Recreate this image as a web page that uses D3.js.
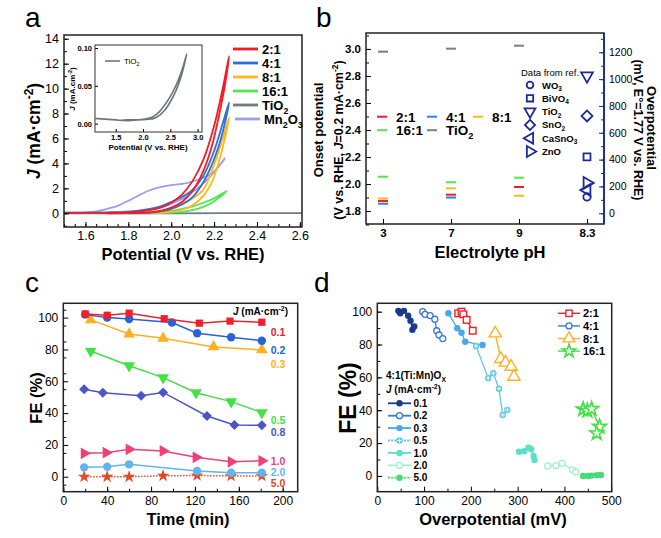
<!DOCTYPE html>
<html><head><meta charset="utf-8">
<script src="https://cdn.jsdelivr.net/npm/d3@7"></script>
<style>body{margin:0;background:#fff}svg{display:block;font-family:"Liberation Sans",Arial,sans-serif}</style>
</head><body><script>
// ================= DATA =================
// Panel a: CV curves, [potential (V vs RHE), J (mA cm-2)], forward then return branch
const aNames = ["2:1","4:1","8:1","16:1","TiO_{2}","Mn_{2}O_{3}"];
const a_21 = [[1.50,0.02],[1.70,0.04],[1.80,0.08],[1.90,0.25],[1.95,0.45],[2.00,0.85],[2.05,1.5],[2.10,2.6],[2.15,4.3],[2.20,7.0],[2.24,10.0],[2.27,12.6],[2.25,10.2],[2.22,7.6],[2.19,5.4],[2.15,3.4],[2.10,1.8],[2.05,0.9],[2.00,0.45],[1.95,0.2],[1.90,0.08],[1.80,0.02],[1.70,0.0]];
const a_41 = [[1.50,0.05],[1.70,0.06],[1.80,0.12],[1.90,0.35],[1.95,0.55],[2.00,0.9],[2.05,1.3],[2.10,1.9],[2.15,3.0],[2.20,5.0],[2.24,7.2],[2.27,8.9],[2.25,7.2],[2.22,5.3],[2.18,3.5],[2.14,2.2],[2.10,1.3],[2.05,0.7],[2.00,0.35],[1.95,0.15],[1.90,0.06],[1.80,0.02]];
const a_81 = [[1.75,0.0],[1.85,0.05],[1.95,0.2],[2.00,0.4],[2.05,0.75],[2.10,1.2],[2.15,1.9],[2.20,3.9],[2.24,6.0],[2.27,7.7],[2.25,6.0],[2.22,4.0],[2.19,2.5],[2.15,1.4],[2.10,0.65],[2.05,0.3],[2.00,0.12],[1.90,0.02]];
const a_161 = [[1.50,0.02],[1.80,0.03],[1.90,0.08],[2.00,0.2],[2.05,0.35],[2.10,0.55],[2.15,0.85],[2.20,1.2],[2.26,1.8],[2.22,1.2],[2.18,0.75],[2.14,0.45],[2.10,0.25],[2.05,0.12],[2.00,0.05],[1.90,0.0],[1.80,-0.02]];
const a_TiO2 = [[1.50,0.0],[2.00,0.0],[2.61,0.02]];
const a_Mn2O3 = [[1.50,0.05],[1.60,0.08],[1.65,0.15],[1.70,0.35],[1.75,0.6],[1.80,1.0],[1.85,1.45],[1.90,1.85],[1.95,2.1],[2.00,2.25],[2.05,2.35],[2.10,2.55],[2.15,2.85],[2.20,3.35],[2.25,4.4],[2.20,3.3],[2.15,2.4],[2.10,1.7],[2.05,1.15],[2.00,0.75],[1.95,0.45],[1.90,0.3],[1.80,0.15],[1.70,0.07],[1.60,0.05],[1.50,0.05]];
// inset: TiO2 only
const aInset_TiO2 = [[1.12,0.007],[1.3,0.006],[1.5,0.005],[1.7,0.004],[1.9,0.005],[2.1,0.007],[2.2,0.010],[2.3,0.016],[2.4,0.025],[2.5,0.036],[2.6,0.050],[2.7,0.068],[2.8,0.092],[2.7,0.063],[2.6,0.043],[2.5,0.029],[2.4,0.018],[2.3,0.011],[2.2,0.007],[2.1,0.006],[1.9,0.005],[1.7,0.005],[1.6,0.004]];
const aXTicks = [1.6,1.8,2.0,2.2,2.4,2.6];
const aYTicks = [0,2,4,6,8,10,12,14];

// Panel b: onset potentials (V vs RHE) per pH
const bPH = ["3","7","9","8.3"];
const bNames = ["2:1","4:1","8:1","16:1","TiO_{2}"];
const b_21  = [1.874,1.921,1.978,null];
const b_41  = [1.854,1.900,null,null];
const b_81  = [1.893,1.968,1.913,null];
const b_161 = [2.054,2.013,2.047,null];
const b_TiO2= [2.980,3.002,3.024,null];
const bRefNames = ["WO_{3}","BiVO_{4}","TiO_{2}","SnO_{2}","CaSnO_{3}","ZnO"];
const bRefOverpot = [122,420,1025,726,174,226]; // mV, shown at pH 8.3
const bYTicks = [1.8,2.0,2.2,2.4,2.6,2.8,3.0];
const bY2Ticks = [0,200,400,600,800,1000,1200];

// Panel c: FE (%) vs time (min)
const cNames = ["0.1","0.2","0.3","0.5","0.8","1.0","2.0","5.0"];
const c_01 = [[20,102.3],[40,101.5],[60,102.8],[92,99.3],[124,96.5],[152,97.8],[181,97.1]];
const c_02 = [[20,102],[40,100],[60,99.1],[99,96.9],[122,90.2],[153,87.7],[181,85.5]];
const c_03 = [[25,98.6],[60,89.7],[91,87],[137,81.6],[181,79.7]];
const c_05 = [[25,79],[60,69.8],[91,62.3],[121,52.8],[153,47.2],[181,40.3]];
const c_08 = [[19,55],[36,52.8],[71,50.9],[91,53],[131,38.2],[156,32.5],[181,32.3]];
const c_10 = [[19,14.7],[39,15.1],[60,17.2],[91,16.2],[121,12.2],[153,9.4],[181,10]];
const c_20 = [[19,5.9],[40,6.3],[60,7.8],[122,3.6],[153,2.5],[181,2.5]];
const c_50 = [[19,0],[40,0],[60,0],[91,0.6],[122,0.8],[153,0.5],[181,0.5]];
const cXTicks = [0,40,80,120,160,200];
const cYTicks = [0,20,40,60,80,100];

// Panel d: FE (%) vs overpotential (mV)
const dJNames = ["0.1","0.2","0.3","0.5","1.0","2.0","5.0"];
const d_01 = [[45,100.5],[49,99],[57,100.5],[66,97.5],[71,94.5],[75,89],[79,91]];
const d_02 = [[97,100],[102,98.4],[113,97.6],[123,95.4],[127,88.4],[132,85.8],[140,83.6]];
const d_03 = [[152,99],[171,89.9],[180,87.2],[188,81.7],[225,79.7]];
const d_05 = [[211,79.1],[237,59.5],[248,62.5],[260,53.1],[268,37.1],[278,40.2]];
const d_10 = [[303,14.7],[314,15.1],[323,17.2],[329,16.2],[334,12.2],[336,9.7]];
const d_20 = [[364,6.1],[382,6.3],[395,7.7],[417,3.7],[424,2.4]];
const d_50 = [[440,0],[451,0],[458,0.2],[469,0.5],[478,0.6]];
const dRatioNames = ["2:1","4:1","8:1","16:1"];
const d_2to1 = [[173,99],[180,100],[184,98.4],[191,95],[204,88.4]];
const d_8to1 = [[252,86.8],[264,71.2],[274,69],[286,66.5],[292,60.4]];
const d_16to1 = [[440,40.6],[449,39.7],[458,40.8],[475,30],[469,26]];
const dXTicks = [0,100,200,300,400,500];
const dYTicks = [0,20,40,60,80,100];

// ================= DRAWING =================
const W=661,H=538;
const svg=d3.select('body').append('svg').attr('width',W).attr('height',H);
svg.append('rect').attr('width',W).attr('height',H).attr('fill','#fff');

function rich(sel, str, fs){
  const parts=str.split(/(_\{[^}]*\}|\^\{[^}]*\}|\*[^*]+\*)/).filter(s=>s!=='');
  let shift=0;
  parts.forEach(p=>{
    let t=p,dy=0,size=null,it=false;
    if(p.startsWith('_{')){t=p.slice(2,-1);dy=0.28*fs;size=0.68*fs;}
    else if(p.startsWith('^{')){t=p.slice(2,-1);dy=-0.4*fs;size=0.68*fs;}
    else if(p.startsWith('*')){t=p.slice(1,-1);it=true;}
    const ts=sel.append('tspan').text(t);
    const d=dy-shift; if(d) ts.attr('dy',d);
    shift=dy;
    if(size) ts.attr('font-size',size);
    if(it) ts.attr('font-style','italic');
  });
  return sel;
}
function label(x,y,str,fs,opts={}){
  const t=svg.append('text').attr('x',x).attr('y',y).attr('font-size',fs)
    .attr('font-weight',opts.weight||'bold').attr('fill',opts.fill||'#000')
    .attr('text-anchor',opts.anchor||'start');
  if(opts.rotate!==undefined) t.attr('transform',`rotate(${opts.rotate},${x},${y})`);
  if(opts.family) t.attr('font-family',opts.family);
  if(opts.baseline) t.attr('dominant-baseline',opts.baseline);
  rich(t,str,fs);
  return t;
}
function styleAxis(g,fs,weight,color){
  g.select('.domain').remove();
  g.attr('font-family',null).attr('font-size',null);
  g.selectAll('text').attr('font-size',fs).attr('font-weight',weight).attr('fill',color||'#000');
  g.selectAll('line').attr('stroke',color||'#000').attr('stroke-width',1);
}
function minorAxis(g){ g.select('.domain').remove(); g.selectAll('text').remove();
  g.attr('font-family',null).attr('font-size',null); g.selectAll('line').attr('stroke','#000'); }
function axes(x,y,o){
  const [x0,x1]=x.range(), [y0,y1]=y.range();
  const gbm=svg.append('g').attr('transform',`translate(0,${y0})`)
    .call(d3.axisBottom(x).tickValues(o.xMinor).tickSize(-3));
  minorAxis(gbm);
  const gb=svg.append('g').attr('transform',`translate(0,${y0})`)
    .call(d3.axisBottom(x).tickValues(o.xTicks).tickSize(-5).tickPadding(o.xpad||5).tickFormat(o.xFmt||null));
  styleAxis(gb,o.fs,o.xWeight||o.weight);
  const glm=svg.append('g').attr('transform',`translate(${x0},0)`)
    .call(d3.axisLeft(y).tickValues(o.yMinor).tickSize(-3));
  minorAxis(glm);
  const gl=svg.append('g').attr('transform',`translate(${x0},0)`)
    .call(d3.axisLeft(y).tickValues(o.yTicks).tickSize(-5).tickPadding(o.ypad||5).tickFormat(o.yFmt||null));
  styleAxis(gl,o.fs,o.weight);
  svg.append('rect').attr('x',x0).attr('y',y1).attr('width',x1-x0).attr('height',y0-y1)
    .attr('fill','none').attr('stroke','#222').attr('stroke-width',o.sw||1.5);
}
function range(a,b,s){const r=[];for(let v=a;v<=b+1e-9;v+=s)r.push(+v.toFixed(4));return r;}

// panel letters
[['a',25,27],['b',316,27],['c',25,292],['d',314,292]].forEach(([t,x,y])=>
  svg.append('text').attr('x',x).attr('y',y).attr('font-family','"Liberation Sans",Arial,sans-serif').attr('font-size',28).text(t));

// ---------- Panel a ----------
const xA=d3.scaleLinear([1.5,2.61],[64,302]);
const yA=d3.scaleLinear([-1.1,14.3],[227,35]);
const aColors=['#f41c24','#2f6fdc','#ffb81c','#4fe84f','#707c84','#9c9ce8'];
const aData=[a_21,a_41,a_81,a_161,a_TiO2,a_Mn2O3];
const lineA=d3.line().x(d=>xA(d[0])).y(d=>yA(d[1])).curve(d3.curveCatmullRom);
const drawOrder=[4,5,3,2,1,0];
drawOrder.forEach(i=>svg.append('path').attr('d',lineA(aData[i])).attr('fill','none')
  .attr('stroke',aColors[i]).attr('stroke-width',1.8));
axes(xA,yA,{xTicks:aXTicks,xMinor:range(1.5,2.6,0.05),yTicks:aYTicks,yMinor:range(-1,14,1),
  fs:12.5,weight:'normal',xFmt:d3.format('.1f'),yFmt:d3.format('d'),xpad:4});
label(183,260,'Potential (V vs. RHE)',16.5,{anchor:'middle'});
label(40,131,'*J* (mA·cm^{-2})',17.5,{anchor:'middle',rotate:-90});
// legend a
aNames.forEach((n,i)=>{
  const y=49+i*14;
  const lx = i===5?235:233;
  svg.append('line').attr('x1',lx).attr('x2',lx+25).attr('y1',y).attr('y2',y).attr('stroke',aColors[i]).attr('stroke-width',2.8);
  label(lx+29,y+5,n,13);
});
// inset
const xI=d3.scaleLinear([1.12,3.08],[95,202]);
const yI=d3.scaleLinear([-0.011,0.104],[132,45]);
svg.append('rect').attr('x',95).attr('y',45).attr('width',107).attr('height',87).attr('fill','#fff');
{
  const gb=svg.append('g').attr('transform','translate(0,132)').call(d3.axisBottom(xI).tickValues([1.5,2.0,2.5,3.0]).tickSize(-3).tickPadding(3).tickFormat(d3.format('.1f')));
  styleAxis(gb,7.5,'bold');
  const gl=svg.append('g').attr('transform','translate(95,0)').call(d3.axisLeft(yI).tickValues([0,0.05,0.1]).tickSize(-3).tickPadding(3).tickFormat(d3.format('.2f')));
  styleAxis(gl,7.5,'bold');
  svg.append('rect').attr('x',95).attr('y',45).attr('width',107).attr('height',87).attr('fill','none').attr('stroke','#333').attr('stroke-width',1);
  const lineI=d3.line().x(d=>xI(d[0])).y(d=>yI(d[1])).curve(d3.curveCatmullRom);
  svg.append('path').attr('d',lineI(aInset_TiO2)).attr('fill','none').attr('stroke','#6c777d').attr('stroke-width',1.6);
  svg.append('line').attr('x1',105).attr('x2',120).attr('y1',61).attr('y2',61).attr('stroke','#6c777d').attr('stroke-width',1.6);
  label(124,64,'TiO_{2}',8,{weight:'normal'});
  label(148,150,'Potential (V vs. RHE)',8,{anchor:'middle'});
  label(75,89,'*J* (mA.cm^{-2})',8,{anchor:'middle',rotate:-90});
}

// ---------- Panel b ----------
const xB=d3.scaleLinear([-0.25,3.25],[366,604]);
const yB=d3.scaleLinear([1.704,3.118],[224,33]);
const yB2=d3.scaleLinear([-80,1344],[224,33]);
const bColors=['#f41c24','#2f7fe0','#ffb81c','#4fe84f','#6f8290'];
const navy='#1c2a9c';
axes(xB,yB,{xTicks:[0,1,2,3],xMinor:[],yTicks:bYTicks,yMinor:range(1.7,3.1,0.1),
  fs:11.5,weight:'bold',xFmt:i=>bPH[i],yFmt:d3.format('.1f')});
{
  const gr2=svg.append('g').attr('transform','translate(604,0)').call(d3.axisRight(yB2).tickValues(range(0,1300,100)).tickSize(-3));
  minorAxis(gr2); gr2.selectAll('line').attr('stroke',navy);
  const gr=svg.append('g').attr('transform','translate(604,0)').call(d3.axisRight(yB2).tickValues(bY2Ticks).tickSize(-5).tickPadding(5).tickFormat(d3.format('d')));
  styleAxis(gr,10.5,'normal','#000');
  gr.selectAll('line').attr('stroke',navy);
  svg.append('line').attr('x1',604).attr('x2',604).attr('y1',33).attr('y2',224).attr('stroke',navy).attr('stroke-width',1.8);
}
[b_21,b_41,b_81,b_161,b_TiO2].forEach((arr,i)=>{
  arr.forEach((v,k)=>{ if(v===null) return;
    svg.append('line').attr('x1',xB(k)-5).attr('x2',xB(k)+5).attr('y1',yB(v)).attr('y2',yB(v))
      .attr('stroke',bColors[i]).attr('stroke-width',2);
  });
});
// reference symbols
const refSym=[
  {t:d3.symbolCircle,s:42,r:0},
  {t:d3.symbolSquare,s:48,r:0},
  {t:d3.symbolTriangle,s:60,r:180},
  {t:d3.symbolSquare,s:60,r:45},
  {t:d3.symbolTriangle,s:60,r:-90},
  {t:d3.symbolTriangle,s:60,r:90}];
bRefOverpot.forEach((v,i)=>{
  svg.append('path').attr('d',d3.symbol(refSym[i].t,refSym[i].s)())
    .attr('transform',`translate(${xB(3)},${yB2(v)}) rotate(${refSym[i].r})`)
    .attr('fill','none').attr('stroke',navy).attr('stroke-width',1.8);
});
label(521,76,'Data from ref.',9.5,{weight:'normal'});
bRefNames.forEach((n,i)=>{
  const y=85+i*13.3;
  svg.append('path').attr('d',d3.symbol(refSym[i].t,refSym[i].s*0.85)())
    .attr('transform',`translate(530,${y}) rotate(${refSym[i].r})`)
    .attr('fill','none').attr('stroke',navy).attr('stroke-width',1.8);
  label(542,y+3.5,n,9.5);
});
// b legend
bNames.forEach((n,i)=>{
  const col=[0,1,2,0,1][i], row=i<3?0:1;
  const lx=[377,427,473][col], y=116.7+row*13.5;
  svg.append('line').attr('x1',lx).attr('x2',lx+10).attr('y1',y).attr('y2',y).attr('stroke',bColors[i]).attr('stroke-width',2);
  label(lx+19,y+5,n,13.5);
});
label(490,258,'Electrolyte pH',16.5,{anchor:'middle'});
label(323,130,'Onset potential',13,{anchor:'middle',rotate:-90});
label(343,140,'(V vs. RHE, *J*=0.2 mA·cm^{-2})',12.5,{anchor:'middle',rotate:-90});
label(647,128,'Overpotential',13,{anchor:'middle',rotate:90});
label(634,130,'(mV, E°=1.77 V vs. RHE)',12.5,{anchor:'middle',rotate:90});

// ---------- Panel c ----------
const xC=d3.scaleLinear([0,213.7],[63.3,297.7]);
const yC=d3.scaleLinear([-9.4,109],[491.7,303.3]);
axes(xC,yC,{xTicks:cXTicks,xMinor:range(0,210,20),yTicks:cYTicks,yMinor:range(-5,105,10),
  fs:12,weight:'normal',xFmt:d3.format('d'),yFmt:d3.format('d')});
const cColors=['#f0202a','#2563d6','#ffb020','#44e044','#4a55c8','#f0407a','#62b4f0','#e04a24'];
const cSym=[
  {t:d3.symbolSquare,s:52,r:0},{t:d3.symbolCircle,s:55,r:0},{t:d3.symbolTriangle,s:60,r:0},
  {t:d3.symbolTriangle,s:60,r:180},{t:d3.symbolSquare,s:50,r:45},{t:d3.symbolTriangle,s:60,r:90},
  {t:d3.symbolCircle,s:55,r:0},{t:d3.symbolStar,s:50,r:0}];
const cData=[c_01,c_02,c_03,c_05,c_08,c_10,c_20,c_50];
const lineC=d3.line().x(d=>xC(d[0])).y(d=>yC(d[1]));
[7,6,5,4,3,2,1,0].forEach(i=>{
  const p=svg.append('path').attr('d',lineC(cData[i])).attr('fill','none').attr('stroke',cColors[i]).attr('stroke-width',1.5);
  if(i===7) p.attr('stroke-dasharray','1.5,1.5');
  cData[i].forEach(d=>svg.append('path').attr('d',d3.symbol(cSym[i].t,cSym[i].s)())
    .attr('transform',`translate(${xC(d[0])},${yC(d[1])}) rotate(${cSym[i].r})`).attr('fill',cColors[i]));
});
const cLabelDy=[9.4,9.2,14,7.4,6.4,0.2,-0.4,7.4];
cNames.forEach((n,i)=>{
  const last=cData[i][cData[i].length-1];
  label(278,yC(last[1])+cLabelDy[i],n,10.5,{anchor:'middle',fill:cColors[i],baseline:'central'});
});
label(233,315,'*J* (mA·cm^{-2})',10);
label(188,525,'Time (min)',16.5,{anchor:'middle'});
label(42,398,'FE (%)',16.5,{anchor:'middle',rotate:-90});

// ---------- Panel d ----------
const xD=d3.scaleLinear([0,501],[377.3,611.7]);
const yD=d3.scaleLinear([-9.6,105.1],[491.7,303.3]);
axes(xD,yD,{xTicks:dXTicks,xMinor:range(50,450,100),yTicks:dYTicks,yMinor:range(0,100,10),
  fs:12,weight:'normal',xFmt:d3.format('d'),yFmt:d3.format('d')});
const dJColors=['#1c3a8c','#3a78d8','#4aa8e8','#62c8e4','#5ee0c8','#a4f0cc','#44dc78'];
const dRColors=['#f0202a','#3a78d8','#ffb020','#44e044'];
const lineD=d3.line().x(d=>xD(d[0])).y(d=>yD(d[1]));
function dMarker(kind,color,x,y,scale=1){
  const g=svg.append('g').attr('transform',`translate(${x},${y})`);
  if(kind==='fc') g.append('circle').attr('r',3.2*scale).attr('fill',color);
  if(kind==='oc') g.append('circle').attr('r',3*scale).attr('fill','#fff').attr('stroke',color).attr('stroke-width',1.3);
  if(kind==='xc'){ g.append('circle').attr('r',3.2*scale).attr('fill',color);
    g.append('path').attr('d',`M-2.2,0H2.2M0,-2.2V2.2`).attr('stroke','#e8fbff').attr('stroke-width',1);}
  if(kind==='osq') g.append('rect').attr('x',-3.3*scale).attr('y',-3.3*scale).attr('width',6.6*scale).attr('height',6.6*scale).attr('fill','#fff').attr('stroke',color).attr('stroke-width',1.4);
  if(kind==='otri') g.append('path').attr('d',d3.symbol(d3.symbolTriangle,65*scale*scale)()).attr('fill','#fff').attr('stroke',color).attr('stroke-width',1.4);
  if(kind==='ostar') g.append('path').attr('d',d3.symbol(d3.symbolStar,60*scale*scale)()).attr('fill','#fff').attr('stroke',color).attr('stroke-width',1.6);
}
const dJData=[d_01,d_02,d_03,d_05,d_10,d_20,d_50];
const dJKind=['fc','oc','fc','xc','fc','oc','fc'];
dJData.forEach((arr,i)=>{
  svg.append('path').attr('d',lineD(arr)).attr('fill','none').attr('stroke',dJColors[i]).attr('stroke-width',1.3);
  arr.forEach(d=>dMarker(dJKind[i],dJColors[i],xD(d[0]),yD(d[1])));
});
const dRData=[d_2to1,null,d_8to1,d_16to1];
const dRKind=['osq','oc','otri','ostar'];
dRData.forEach((arr,i)=>{ if(!arr) return;
  svg.append('path').attr('d',lineD(arr)).attr('fill','none').attr('stroke',dRColors[i]).attr('stroke-width',1.4);
  arr.forEach(d=>dMarker(dRKind[i],dRColors[i],xD(d[0]),yD(d[1])));
});
dRatioNames.forEach((n,i)=>{
  const y=313.3+i*12.6;
  svg.append('line').attr('x1',558).attr('x2',580).attr('y1',y).attr('y2',y).attr('stroke',dRColors[i]).attr('stroke-width',1.4);
  dMarker(dRKind[i],dRColors[i],569,y,i===1?1:0.95);
  label(583,y+4,n,11);
});
label(386,379,'4:1(Ti:Mn)O_{X}',10);
label(386,393,'*J* (mA·cm^{-2})',10);
dJNames.forEach((n,i)=>{
  const y=403.3+i*12.4;
  const l=svg.append('line').attr('x1',388).attr('x2',411).attr('y1',y).attr('y2',y).attr('stroke',dJColors[i]).attr('stroke-width',1.8);
  if(i===3||i===6) l.attr('stroke-dasharray','2,1.2');
  dMarker(dJKind[i],dJColors[i],399.5,y);
  label(413.5,y+3.7,n,10);
});
label(493,525,'Overpotential (mV)',16.5,{anchor:'middle'});
label(356,398,'FE (%)',23,{anchor:'middle',rotate:-90});
</script></body></html>
